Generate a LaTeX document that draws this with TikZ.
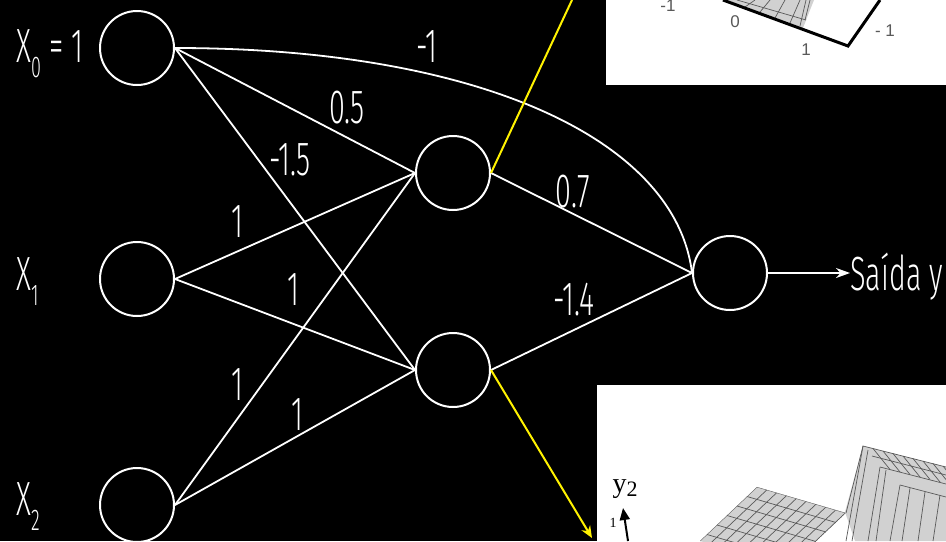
\documentclass[tikz,border=0pt]{standalone}
\usepackage{fontspec}
\setmainfont{Fira Sans}[UprightFont={* Light},FakeStretch=0.6]
\newfontfamily\plotsans{Liberation Sans}
\newfontfamily\plotserif{Liberation Serif}
\usetikzlibrary{arrows.meta}
\newcommand{\lowidx}[1]{\raisebox{-7.5pt}{\fontsize{15}{15}\selectfont #1}}

\begin{document}
\begin{tikzpicture}[
x=0.5pt, y=-0.5pt,
neuron/.style={circle, draw=white, line width=1pt, minimum size=37pt, inner sep=0pt},
syn/.style={draw=white, line width=0.9pt},
lbl/.style={text=white, font=\fontsize{24}{26}\selectfont, inner sep=0pt},
probe/.style={draw=yellow, line width=1pt},
mesh/.style={draw=black!65, line width=0.35pt},
surf/.style={fill=black!18},
axlbl/.style={text=black!65, font=\plotsans\fontsize{8.5}{9}\selectfont, inner sep=0pt},
]
\fill[black] (0,0) rectangle (946,541);
\useasboundingbox (0,0) rectangle (946,541);

% plot of the first hidden unit
\begin{scope}
  \clip (606,0) rectangle (946,85);
  \fill[white] (606,0) rectangle (946,85);
  \fill[surf] (727,0) -- (803,28) -- (810,10) -- (814,0) -- cycle;
  \foreach \a/\b in {745/7, 760/12, 775/18, 790/23}
    \draw[mesh] (\a,\b) -- ++(10,-\b);
  \draw[mesh] (737,0) -- (806,20);
  \draw[mesh] (800,26) -- (806,0);
  \draw[mesh] (805,20) -- (810,0);
  \draw[black, line width=1.5pt] (723,0) -- (848,46) -- (880,0);
  \node[axlbl] (t0) at (735,22) {0};
  \node[axlbl] (t1) at (806,50) {1};
  \node[axlbl] (t2) at (885,31) {- 1};
  \node[axlbl] (t3) at (668,6) {-1};
\end{scope}

% plot of the second hidden unit
\begin{scope}
  \clip (597,385) rectangle (946,541);
  \fill[white] (597,385) rectangle (946,541);
  \fill[surf] (757,487) -- (846,513) -- (789,567) -- (700,541) -- cycle;
  \begin{scope}
    \clip (757,487) -- (846,513) -- (789,567) -- (700,541) -- cycle;
    \foreach \i [evaluate=\i as \xa using 757+9.8*\i,
                 evaluate=\i as \ya using 487+2.9*\i] in {0,...,9}
      \draw[mesh] (\xa,\ya) -- ++(-57,54);
    \foreach \j [evaluate=\j as \xa using 757-10*\j,
                 evaluate=\j as \ya using 487+9.5*\j] in {0,...,6}
      \draw[mesh] (\xa,\ya) -- ++(89,26);
  \end{scope}
  \fill[surf] (845,512) -- (863,446) -- (946,467) -- (946,541) -- (855,541) -- cycle;
  \draw[mesh] (846,513) -- (863,446) -- (946,467);
  \draw[mesh] (880,467) -- (946,484);
  \draw[mesh] (900,485) -- (946,497);
  \draw[mesh] (872,456) -- (946,475);
  \foreach \i [evaluate=\i as \xa using 863+10*\i,
               evaluate=\i as \ya using 446+2.5*\i] in {1,...,8}
    \draw[mesh] (\xa,\ya) -- ++(17,21);
  \foreach \a/\b/\c in {863/446/846, 868/450/852, 880/467/868, 886/470/876,
                        900/485/890, 910/488/902, 925/492/918, 940/495/933}
    \draw[mesh] (\a,\b) -- (\c,541);
  \node[font=\plotserif\fontsize{14}{14}\selectfont, inner sep=0pt] (ylab) at (625,489)
    {y\raisebox{-2pt}{\fontsize{11}{11}\selectfont 2}};
  \node[font=\plotserif\fontsize{7}{7}\selectfont, inner sep=0pt] (yone) at (613,523) {1};
  \draw[line width=1pt, -{Triangle[length=6pt,width=5pt]}] (628,541) -- (623,508);
\end{scope}

\node[neuron] (x0) at (137,48) {};
\node[neuron] (x1) at (137,279) {};
\node[neuron] (x2) at (137,505) {};
\node[neuron] (h1) at (453,173) {};
\node[neuron] (h2) at (453,370) {};
\node[neuron] (out) at (730,273) {};

\node[lbl, anchor=base west] (lx0) at (16,62) {X\lowidx{0} = 1};
\node[lbl, anchor=base west] (lx1) at (16,290) {X\lowidx{1}};
\node[lbl, anchor=base west] (lx2) at (16,515) {X\lowidx{2}};
\node[lbl, anchor=base west] (yout) at (850,290) {Saída y};

\draw[syn] (x0.east) -- (h1.west);
\draw[syn] (x0.east) -- (h2.west);
\draw[syn] (x1.east) -- (h1.west);
\draw[syn] (x1.east) -- (h2.west);
\draw[syn] (x2.east) -- (h1.west);
\draw[syn] (x2.east) -- (h2.west);
\draw[syn] (h1.east) -- (out.west);
\draw[syn] (h2.east) -- (out.west);
\draw[syn] (x0.east) .. controls (480,48) and (676,140) .. (out.west);
\draw[syn, -{Stealth[length=7pt,width=5pt]}] (out.east) -- (out.east -| yout.west);

\node[lbl] (w0o) at (427,47) {-1};
\node[lbl] (w01) at (347,108) {0.5};
\node[lbl] (w02) at (290,160) {-1.5};
\node[lbl] (w11) at (237,222) {1};
\node[lbl] (w12) at (293,290) {1};
\node[lbl] (w21) at (237,385) {1};
\node[lbl] (w22) at (297,415) {1};
\node[lbl] (w1o) at (573,192) {0.7};
\node[lbl] (w2o) at (574,300) {-1.4};

\coordinate (plot1) at (572,0);
\coordinate (plot2) at (592,538);
\draw[probe] (h1.east) -- (plot1);
\draw[probe, -{Stealth[length=6pt,width=5pt]}] (h2.east) -- (plot2);
\end{tikzpicture}
\end{document}
